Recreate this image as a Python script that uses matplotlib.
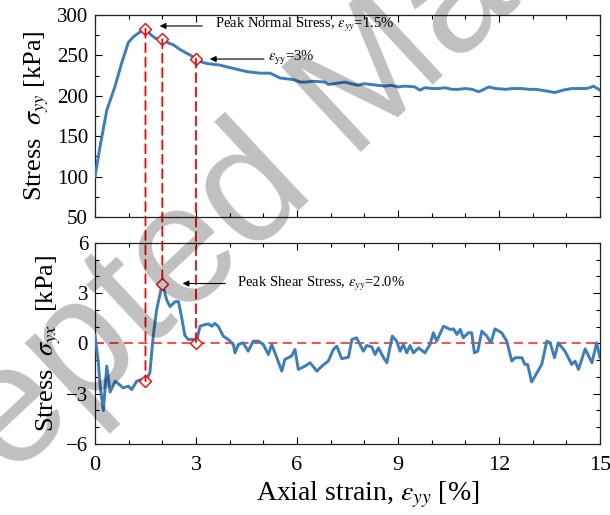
import matplotlib
matplotlib.use('Agg')
import matplotlib.pyplot as plt
from matplotlib.ticker import MultipleLocator
from matplotlib.patches import ConnectionPatch

plt.rcParams['font.family'] = ['Liberation Serif', 'DejaVu Serif']
plt.rcParams['mathtext.fontset'] = 'stix'

# normal stress vs axial strain
x_n = [0, 0.15, 0.35, 0.59, 0.79, 0.99, 1.14, 1.34, 1.5, 1.65, 1.8, 2.0, 2.15, 2.33,
       2.5, 2.62, 2.8, 3.0, 3.15, 3.32, 3.5, 3.71, 3.9, 4.1, 4.3, 4.5, 4.7, 4.9, 5.2,
       5.5, 5.7, 5.9, 6.1, 6.24, 6.5, 6.83, 6.93, 7.1, 7.43, 7.6, 7.82, 8.0, 8.2, 8.4,
       8.6, 8.8, 9.0, 9.2, 9.5, 9.65, 9.8, 10.0, 10.2, 10.4, 10.6, 10.8, 11.0, 11.2,
       11.4, 11.55, 11.7, 11.9, 12.2, 12.4, 12.67, 12.9, 13.1, 13.4, 13.66, 13.9,
       14.16, 14.4, 14.56, 14.7, 14.8, 15.0]
y_n = [100, 137, 182, 211, 240, 266, 273, 279, 283, 276, 271, 270, 266, 263,
       258, 255, 251, 246, 242, 240, 239, 238, 236, 234, 232, 230, 229, 228, 228,
       222, 221, 220, 217, 217, 218, 217, 214, 215, 217, 215, 213, 215, 214, 213,
       212, 213, 211, 212, 211, 207, 210, 209, 209, 210, 208, 208, 209, 208,
       205, 208, 211, 209, 208, 209, 209, 208, 208, 206, 204, 207,
       209, 209, 209, 210, 212, 207]

# shear stress vs axial strain
x_s = [0, 0.1, 0.15, 0.25, 0.35, 0.45, 0.6, 0.84, 0.99, 1.09, 1.24, 1.39, 1.5, 1.63,
       1.73, 1.83, 2.0, 2.13, 2.23, 2.38, 2.48, 2.57, 2.67, 2.77, 2.92, 3.0, 3.12,
       3.27, 3.37, 3.47, 3.56, 3.66, 3.81, 3.96, 4.11, 4.16, 4.26, 4.4, 4.55, 4.7,
       4.85, 5.0, 5.15, 5.25, 5.4, 5.55, 5.64, 5.84, 5.94, 6.04, 6.24, 6.39, 6.59,
       6.74, 6.93, 7.08, 7.18, 7.33, 7.53, 7.63, 7.77, 7.97, 8.07, 8.22, 8.32, 8.42,
       8.57, 8.67, 8.83, 8.96, 9.06, 9.16, 9.26, 9.36, 9.46, 9.61, 9.8, 9.95, 10.05,
       10.15, 10.35, 10.55, 10.65, 10.75, 10.85, 10.94, 11.09, 11.19, 11.27, 11.37,
       11.49, 11.64, 11.76, 11.88, 12.08, 12.23, 12.38, 12.48, 12.68, 12.77, 12.85,
       12.97, 13.07, 13.27, 13.42, 13.52, 13.65, 13.76, 13.96, 14.16, 14.26, 14.36,
       14.56, 14.76, 14.9, 15.0]
y_s = [0.5, -1.15, -2.5, -4.0, -1.35, -2.9, -2.25, -2.65, -2.55, -2.75, -2.25, -2.15,
       -2.25, -1.75, 0.44, 2.0, 3.58, 2.6, 2.2, 2.5, 2.5, 1.6, 0.48, 0.24, 0.24, 0.0,
       1.03, 1.13, 1.17, 1.03, 1.2, 1.03, 0.44, 0.24, -0.06, -0.56, -0.06, 0.04,
       -0.46, 0.14, 0.14, -0.06, -0.66, -0.06, -0.85, -1.65, -0.95, -0.75, -0.36,
       -1.55, -1.35, -1.15, -1.65, -1.35, -1.05, -0.36, -0.16, -0.91, -0.82, 0.24,
       0.34, -0.46, -0.12, -0.2, -0.66, -0.26, -0.85, -1.15, 0.44, 0.14, -0.46,
       -0.06, -0.56, -0.12, -0.56, -0.26, -0.56, -0.06, 0.64, 0.14, 1.03, 0.84, 0.87,
       0.54, 0.84, 0.34, 0.64, 0.64, -0.56, -0.46, 0.74, 0.44, 0.04, 0.87, 0.64,
       0.14, -1.05, -0.85, -0.85, -1.25, -1.25, -2.3, -1.95, -1.25, 0.14, 0.04,
       -0.85, 0.04, -0.46, -1.25, -1.05, -1.55, -0.32, -1.15, 0.04, -0.85]

# marked points: strain, normal stress, shear stress
mark_x = [1.5, 2.0, 3.0]
mark_n = [283, 270, 246]
mark_s = [-2.25, 3.58, 0.0]

blue = '#3b7dbd'

fig = plt.figure(figsize=(6.1, 5.15), dpi=100)
ax1 = fig.add_axes([0.1557, 0.5786, 0.8279, 0.3923])
ax2 = fig.add_axes([0.1557, 0.1379, 0.8279, 0.3903])

ax1.plot(x_n, y_n, color=blue, lw=2.1, zorder=3)
ax2.plot(x_s, y_s, color=blue, lw=2.1, zorder=3)
ax2.axhline(0, color='#ff3b3b', lw=1.3, ls=(0, (5, 3)), zorder=2)

# dashed drops linking the two panels
for xm, yn, ys in zip(mark_x, mark_n, mark_s):
    con = ConnectionPatch(xyA=(xm, yn), coordsA=ax1.transData,
                          xyB=(xm, ys), coordsB=ax2.transData,
                          color='red', lw=1.3, ls=(0, (5, 3)), zorder=4)
    fig.add_artist(con)

ax1.plot(mark_x, mark_n, ls='none', marker='D', ms=6, mfc='white', mec='red',
         mew=1.0, zorder=5)
ax2.plot(mark_x, mark_s, ls='none', marker='D', ms=6, mfc='white', mec='red',
         mew=1.0, zorder=5)

arrow = dict(arrowstyle='-|>', color='black', lw=0.8, mutation_scale=9)
ax1.annotate('', xy=(1.84, 286.4), xytext=(3.27, 286.4), arrowprops=arrow)
ax1.text(3.56, 288, r'Peak Normal Stress, $\varepsilon_{yy}$=1.5%', fontsize=10.5,
         va='center', ha='left')
ax1.annotate('', xy=(3.33, 245.5), xytext=(5.1, 245.5), arrowprops=arrow)
ax1.text(5.14, 247, r'$\varepsilon_{\rm yy}$=3%', fontsize=10.5, va='center', ha='left')
ax2.annotate('', xy=(2.52, 3.58), xytext=(3.95, 3.58), arrowprops=arrow)
ax2.text(4.22, 3.55, r'Peak Shear Stress, $\varepsilon_{yy}$=2.0%', fontsize=10.5,
         va='center', ha='left')

ax1.set_xlim(0, 15)
ax1.set_ylim(50, 300)
ax2.set_xlim(0, 15)
ax2.set_ylim(-6, 6)

for ax in (ax1, ax2):
    ax.xaxis.set_major_locator(MultipleLocator(3))
    ax.xaxis.set_minor_locator(MultipleLocator(1))
    ax.tick_params(which='both', direction='in', top=True, right=True)
    ax.tick_params(which='major', length=5, width=0.8)
    ax.tick_params(which='minor', length=3, width=0.8)
    ax.tick_params(axis='y', labelsize=15, pad=5)
    ax.tick_params(axis='x', labelsize=16, pad=9)
    for sp in ax.spines.values():
        sp.set_linewidth(0.9)
        sp.set_color('#222222')

ax1.yaxis.set_major_locator(MultipleLocator(50))
ax1.yaxis.set_minor_locator(MultipleLocator(25))
ax1.tick_params(axis='x', labelbottom=False)
ax2.yaxis.set_major_locator(MultipleLocator(3))
ax2.yaxis.set_minor_locator(MultipleLocator(1))

ax1.set_ylabel(r'Stress  $\sigma_{yy}$ [kPa]', fontsize=19, labelpad=4)
ax2.set_ylabel(r'Stress  $\sigma_{yx}$  [kPa]', fontsize=19, labelpad=2)
ax2.set_xlabel(r'Axial strain, $\varepsilon_{yy}$ [%]', fontsize=20)
ax2.xaxis.set_label_coords(0.54, -0.175)

# watermark of the source page
fig.text(-0.319, -0.301, 'Accepted Manuscript', fontsize=121, family='Liberation Sans',
         rotation=43, rotation_mode='anchor', ha='left', va='baseline',
         color='black', alpha=0.25, zorder=10)

fig.savefig('out.png', dpi=100)
